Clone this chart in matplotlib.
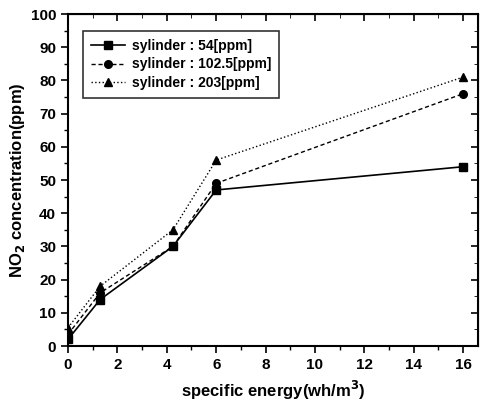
import matplotlib
matplotlib.use("Agg")
import matplotlib.pyplot as plt
from matplotlib.ticker import MultipleLocator

plt.rcParams['font.family'] = ['Liberation Sans', 'DejaVu Sans']
plt.rcParams['font.weight'] = 'bold'

energy = [0, 1.3, 4.25, 6, 16]
s54 = [2, 14, 30, 47, 54]
s102 = [3.5, 16, 30, 49, 76]
s203 = [5.5, 18, 35, 56, 81]
labels = ['sylinder : 54[ppm]', 'sylinder : 102.5[ppm]', 'sylinder : 203[ppm]']

fig = plt.figure(figsize=(4.81, 4.2), dpi=100)
ax = fig.add_axes([68/481, 74/420, 410/481, 332/420])

ax.plot(energy, s54, '-', color='black', marker='s', ms=5.5, lw=1.2, label=labels[0])
ax.plot(energy, s102, '--', color='black', marker='o', ms=5.5, lw=1.0, dashes=(3, 2), label=labels[1])
ax.plot(energy, s203, ':', color='black', marker='^', ms=6, lw=1.0, label=labels[2])

ax.set_xlim(0, 16.6)
ax.set_ylim(0, 100)
ax.xaxis.set_major_locator(MultipleLocator(2))
ax.xaxis.set_minor_locator(MultipleLocator(1))
ax.yaxis.set_major_locator(MultipleLocator(10))
ax.yaxis.set_minor_locator(MultipleLocator(5))
ax.tick_params(which='major', direction='out', length=5, width=1.2, labelsize=11)
ax.tick_params(which='minor', direction='out', length=3, width=1.0)
for s in ax.spines.values():
    s.set_linewidth(1.5)

# top/right inward ticks
secx = ax.secondary_xaxis('top')
secx.xaxis.set_major_locator(MultipleLocator(2))
secx.xaxis.set_minor_locator(MultipleLocator(1))
secx.tick_params(which='major', direction='in', length=5, width=1.2, labeltop=False)
secx.tick_params(which='minor', direction='in', length=3)
secy = ax.secondary_yaxis('right')
secy.yaxis.set_major_locator(MultipleLocator(10))
secy.yaxis.set_minor_locator(MultipleLocator(5))
secy.tick_params(which='major', direction='in', length=5, width=1.2, labelright=False)
secy.tick_params(which='minor', direction='in', length=3)

ax.set_xlabel('specific energy(wh/m$^{\\mathbf{3}}$)', fontsize=12, fontweight='bold', labelpad=5)
ax.set_ylabel('NO$_{\\mathbf{2}}$ concentration(ppm)', fontsize=12, fontweight='bold', labelpad=3)

leg = ax.legend(loc='upper left', bbox_to_anchor=(0.02, 0.97), fontsize=10, frameon=True,
                fancybox=False, edgecolor='black', handlelength=2.4, borderpad=0.6,
                labelspacing=0.3, handletextpad=0.5)
leg.get_frame().set_linewidth(1.2)

fig.savefig('out.png', dpi=100)
